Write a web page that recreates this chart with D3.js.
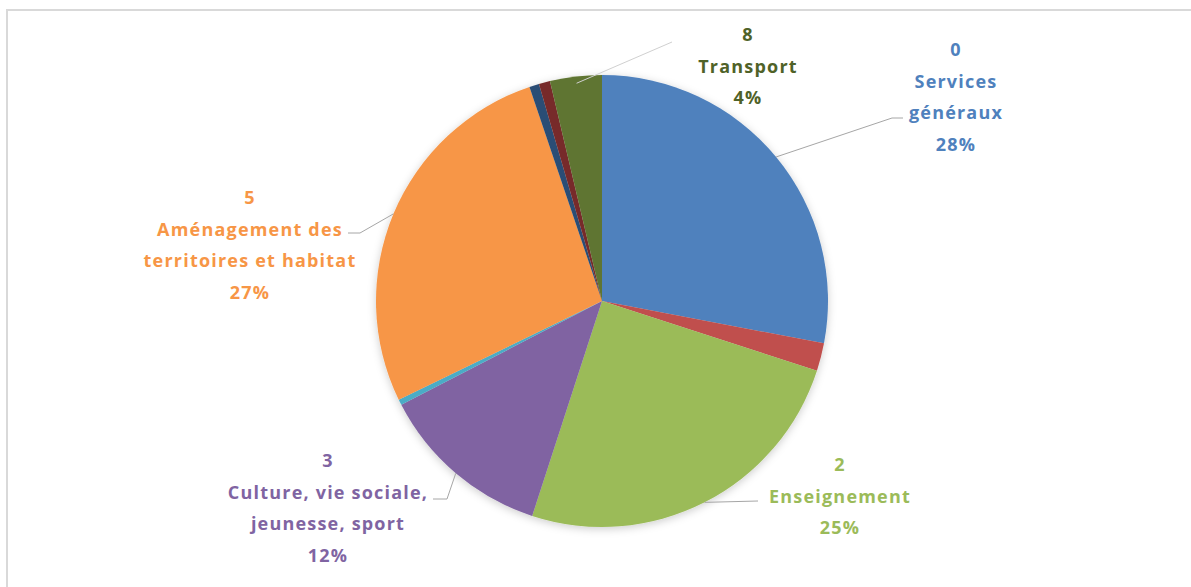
<!DOCTYPE html>
<html>
<head>
<meta charset="utf-8">
<script src="https://cdn.jsdelivr.net/npm/d3@7"></script>
<style>
  body { margin: 0; background: #ffffff; }
  text { font-family: "Open Sans", Lato, sans-serif; font-weight: bold; letter-spacing: 1.2px; }
</style>
</head>
<body>
<div id="pie-vis"></div>
<script>
var w = 1191;
var h = 587;

// chart data (percent of total)
var codes = ['0', '1', '2', '3', '4', '5', '6', '7', '8'];
var names = ['Services généraux', '', 'Enseignement', 'Culture, vie sociale, jeunesse, sport', '',
  'Aménagement des territoires et habitat', '', '', 'Transport'];
var values = [28.0, 2.0, 25.0, 12.4, 0.4, 27.0, 0.7, 0.8, 3.7];
var sliceColors = ['#4F81BD', '#C0504D', '#9BBB59', '#8064A2', '#4BACC6', '#F79646', '#2C4D75', '#772C2A', '#5F7530'];
var textColors = ['#4F81BD', '#C0504D', '#9BBB59', '#8064A2', '#4BACC6', '#F79646', '#2C4D75', '#772C2A', '#4F6228'];

// label placement (only the big slices carry a label)
var labelLayout = {
  0: { x: 956, y: 50, lines: ['0', 'Services', 'généraux'], elbow: [892, 118], end: [903, 118] },
  2: { x: 840, y: 465, lines: ['2', 'Enseignement'], elbow: null, end: [758, 501] },
  3: { x: 328, y: 461, lines: ['3', 'Culture, vie sociale,', 'jeunesse, sport'], elbow: [447, 499], end: [433, 499] },
  5: { x: 250, y: 198, lines: ['5', 'Aménagement des', 'territoires et habitat'], elbow: [360, 233], end: [348, 233] },
  8: { x: 748, y: 35, lines: ['8', 'Transport'], elbow: null, end: [672, 42] }
};

var cx = 602, cy = 301, radius = 226;
var lineStep = 31.5;

var svg = d3.select('#pie-vis')
  .append('svg')
    .attr('width', w)
    .attr('height', h);

// chart frame
svg.append('path')
  .attr('d', 'M7,' + h + ' V10 H' + w)
  .attr('fill', 'none')
  .attr('stroke', '#d9d9d9')
  .attr('stroke-width', 2);

var defs = svg.append('defs');
var shadow = defs.append('filter')
  .attr('id', 'soft-shadow')
  .attr('x', '-20%').attr('y', '-20%')
  .attr('width', '140%').attr('height', '140%');
shadow.append('feDropShadow')
  .attr('dx', 0).attr('dy', 2)
  .attr('stdDeviation', 4)
  .attr('flood-color', '#000000')
  .attr('flood-opacity', 0.2);

var data = codes.map(function(c, i) {
  return { code: c, name: names[i], value: values[i], i: i };
});

var pie = d3.pie()
  .sort(null)
  .value(function(d) { return d.value; });

var arc = d3.arc()
  .innerRadius(0)
  .outerRadius(radius);

var arcs = pie(data);

var pieGroup = svg.append('g')
  .attr('transform', 'translate(' + cx + ',' + cy + ')')
  .attr('filter', 'url(#soft-shadow)');

pieGroup.selectAll('.slice')
  .data(arcs)
  .enter()
  .append('path')
    .attr('class', 'slice')
    .attr('d', arc)
    .attr('fill', function(d) { return sliceColors[d.data.i]; });

// leader lines, starting at the slice's middle angle on the rim
var rimPoint = function(d, k) {
  var a = (d.startAngle + d.endAngle) / 2;
  return [cx + Math.sin(a) * radius * k, cy - Math.cos(a) * radius * k];
};

var labelled = arcs.filter(function(d) { return labelLayout[d.data.i]; });

svg.selectAll('.leader')
  .data(labelled)
  .enter()
  .append('polyline')
    .attr('class', 'leader')
    .attr('fill', 'none')
    .attr('stroke', function(d) { return d.data.i === 8 ? '#d0d0d0' : '#a6a6a6'; })
    .attr('stroke-width', 1)
    .attr('points', function(d) {
      var L = labelLayout[d.data.i];
      var pts = [rimPoint(d, d.data.i === 8 ? 0.97 : 1.0)];
      if (L.elbow) pts.push(L.elbow);
      pts.push(L.end);
      return pts.map(function(p) { return p.join(','); }).join(' ');
    });

var labels = svg.selectAll('.label')
  .data(labelled)
  .enter()
  .append('text')
    .attr('class', 'label')
    .attr('text-anchor', 'middle')
    .style('font-size', '18px')
    .attr('fill', function(d) { return textColors[d.data.i]; });

labels.each(function(d) {
  var L = labelLayout[d.data.i];
  var pct = Math.round(d.data.value / d3.sum(values) * 100) + '%';
  var lines = L.lines.concat([pct]);
  d3.select(this).selectAll('tspan')
    .data(lines)
    .enter()
    .append('tspan')
      .attr('x', L.x)
      .attr('y', function(t, j) { return L.y + j * lineStep; })
      .attr('dy', '0.35em')
      .text(function(t) { return t; });
});
</script>
</body>
</html>
